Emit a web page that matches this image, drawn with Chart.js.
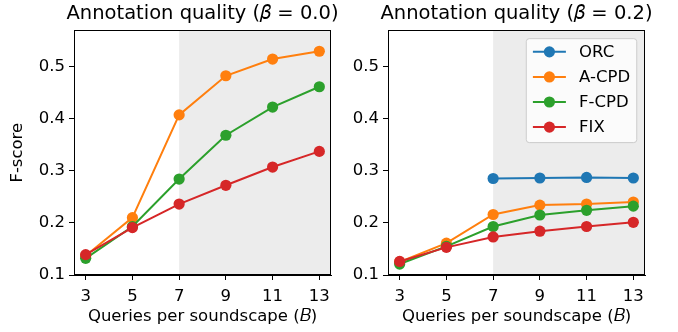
<!DOCTYPE html>
<html>
<head>
<title>Annotation quality</title>
<script src="https://cdn.jsdelivr.net/npm/chart.js"></script>
<style>
  body { margin: 0; background: #fff; }
  .box { position: absolute; top: 0; }
</style>
</head>
<body>
<div class="box" style="left:0;"><canvas id="left" width="340" height="332"></canvas></div>
<div class="box" style="left:340px;"><canvas id="right" width="338" height="332"></canvas></div>
<script>
// budgets on the x axis
const budgets = [3, 5, 7, 9, 11, 13];
const yTicks = [0.1, 0.2, 0.3, 0.4, 0.5];

// beta = 0.0
const aCpd0 = [0.137, 0.210, 0.407, 0.482, 0.514, 0.529];
const fCpd0 = [0.132, 0.193, 0.284, 0.368, 0.422, 0.461];
const fix0  = [0.139, 0.191, 0.236, 0.272, 0.307, 0.337];

// beta = 0.2
const orc2  = [null, null, 0.285, 0.286, 0.287, 0.286];
const aCpd2 = [0.125, 0.161, 0.216, 0.234, 0.236, 0.240];
const fCpd2 = [0.121, 0.155, 0.193, 0.215, 0.224, 0.232];
const fix2  = [0.126, 0.153, 0.173, 0.184, 0.193, 0.201];

const shadeFrom = 7;

Chart.defaults.font.family = 'DejaVu Sans';
Chart.defaults.color = '#000';

const FONT = 16.5;

function ds(label, values, color, order) {
  return {
    label: label,
    data: budgets.map((b, i) => ({x: b, y: values[i]})),
    borderColor: color,
    backgroundColor: color,
    borderWidth: 2,
    pointRadius: 5.6,
    pointBorderWidth: 0,
    pointBackgroundColor: color,
    spanGaps: false,
    order: order
  };
}

// grey band + spines on all four sides
const framePlugin = {
  id: 'frame',
  afterLayout(chart) {
    // title box is only as wide as the plot area, widen it so text is not squeezed
    const t = chart.titleBlock;
    if (t) { t.left -= 40; t.right += 40; }
  },
  beforeDraw(chart) {
    const {ctx, chartArea: a, scales} = chart;
    const x0 = scales.x.getPixelForValue(shadeFrom);
    ctx.save();
    ctx.fillStyle = '#ececec';
    ctx.fillRect(x0, a.top, a.right - x0, a.bottom - a.top);
    ctx.restore();
  },
  afterDatasetsDraw(chart) {
    const {ctx, chartArea: a} = chart;
    ctx.save();
    ctx.strokeStyle = '#000';
    ctx.lineWidth = 1;
    ctx.strokeRect(Math.round(a.left) + 0.5, Math.round(a.top) + 0.5,
                   Math.round(a.right - a.left) - 1, Math.round(a.bottom - a.top) - 1);
    ctx.restore();
  }
};

// matplotlib style legend box in upper right
const boxLegend = {
  id: 'boxLegend',
  afterDraw(chart, args, opts) {
    if (!opts.show) return;
    const {ctx, chartArea: a} = chart;
    const em = FONT;
    const sets = chart.data.datasets;
    ctx.save();
    ctx.font = FONT + 'px "DejaVu Sans"';
    let tw = 0;
    sets.forEach(d => { tw = Math.max(tw, ctx.measureText(d.label).width); });
    const pad = 0.4 * em;
    const w = pad * 2 + 2 * em + 0.8 * em + tw;
    const h = pad * 2 + sets.length * em + (sets.length - 1) * 0.5 * em;
    const right = a.right - 0.5 * em;
    const top = a.top + 0.5 * em;
    const left = right - w;
    ctx.beginPath();
    ctx.roundRect(left, top, w, h, 3);
    ctx.fillStyle = 'rgba(255,255,255,0.8)';
    ctx.fill();
    ctx.strokeStyle = '#cccccc';
    ctx.lineWidth = 1;
    ctx.stroke();
    sets.forEach((d, i) => {
      const y = top + 0.8 * em + i * 1.52 * em;
      const hx = left + pad;
      ctx.strokeStyle = d.borderColor;
      ctx.lineWidth = 2;
      ctx.beginPath();
      ctx.moveTo(hx, y);
      ctx.lineTo(hx + 2 * em, y);
      ctx.stroke();
      ctx.fillStyle = d.borderColor;
      ctx.beginPath();
      ctx.arc(hx + em, y, 5.6, 0, Math.PI * 2);
      ctx.fill();
      ctx.fillStyle = '#000';
      ctx.textBaseline = 'middle';
      ctx.fillText(d.label, hx + 2.8 * em, y + 1);
    });
    ctx.restore();
  }
};

function makeChart(id, title, datasets, yWidth, yTitle, padRight, legend) {
  return new Chart(document.getElementById(id), {
    type: 'line',
    data: {datasets: datasets},
    plugins: [framePlugin, boxLegend],
    options: {
      responsive: false,
      animation: false,
      events: [],
      layout: {padding: {left: 0, right: padRight, top: 0, bottom: 0}},
      plugins: {
        legend: {display: false},
        tooltip: {enabled: false},
        title: {
          display: true, text: title, fullSize: false,
          font: {size: 19.5, weight: 'normal'},
          padding: {top: 2, bottom: 5}
        },
        boxLegend: {show: legend}
      },
      scales: {
        x: {
          type: 'linear', min: 2.5, max: 13.5,
          afterBuildTicks: s => { s.ticks = budgets.map(v => ({value: v})); },
          afterFit: s => { s.height = 57; },
          grid: {drawOnChartArea: false, drawTicks: true, tickLength: 5, color: '#000', lineWidth: 1},
          border: {display: true, color: '#000', width: 1},
          ticks: {font: {size: FONT}, padding: 7, maxRotation: 0},
          title: {display: true, text: 'Queries per soundscape (\uD835\uDC35)', font: {size: FONT}, padding: {top: 0, bottom: 5}}
        },
        y: {
          type: 'linear', min: 0.1, max: 0.569,
          afterBuildTicks: s => { s.ticks = yTicks.map(v => ({value: v})); },
          afterFit: s => { s.width = yWidth; },
          grid: {drawOnChartArea: false, drawTicks: true, tickLength: 5, color: '#000', lineWidth: 1},
          border: {display: true, color: '#000', width: 1},
          ticks: {font: {size: FONT}, padding: 4, callback: v => v.toFixed(1)},
          title: {display: yTitle, text: 'F-score', font: {size: FONT}, padding: {top: 8, bottom: 0}}
        }
      }
    }
  });
}

makeChart('left', 'Annotation quality (\uD835\uDEFD = 0.0)', [
  ds('A-CPD', aCpd0, '#ff7f0e', 2),
  ds('F-CPD', fCpd0, '#2ca02c', 1),
  ds('FIX', fix0, '#d62728', 0)
], 74, true, 9, false);

makeChart('right', 'Annotation quality (\uD835\uDEFD = 0.2)', [
  ds('ORC', orc2, '#1f77b4', 3),
  ds('A-CPD', aCpd2, '#ff7f0e', 2),
  ds('F-CPD', fCpd2, '#2ca02c', 1),
  ds('FIX', fix2, '#d62728', 0)
], 48, false, 33, true);
</script>
</body>
</html>
